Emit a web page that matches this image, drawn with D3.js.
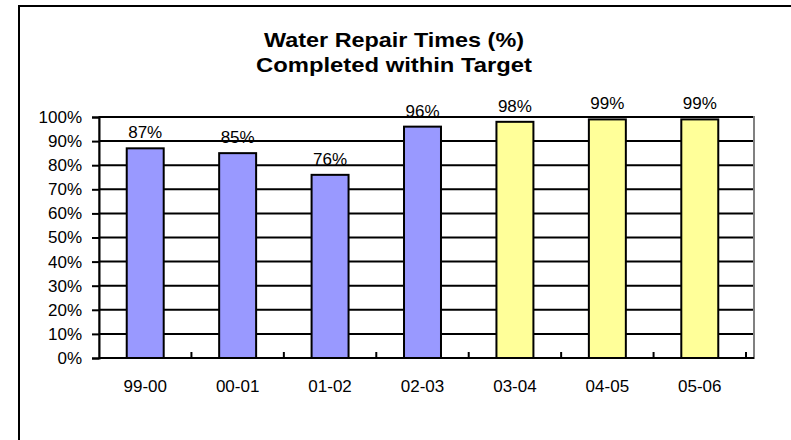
<!DOCTYPE html>
<html>
<head>
<meta charset="utf-8">
<script src="https://cdn.jsdelivr.net/npm/d3@7"></script>
<style>
  body { margin: 0; background: #fff; }
  svg text { font-family: Arial, "Liberation Sans", Helvetica, sans-serif; fill: #000; }
</style>
</head>
<body>
<div id="viz"></div>
<script>
var years = ['99-00', '00-01', '01-02', '02-03', '03-04', '04-05', '05-06'];
var completed = [87, 85, 76, 96, 98, 99, 99];
var period = ['past', 'past', 'past', 'past', 'recent', 'recent', 'recent'];
var yTicks = [0, 10, 20, 30, 40, 50, 60, 70, 80, 90, 100];
var titleLines = ['Water Repair Times (%)', 'Completed within Target'];

var W = 791, H = 440;
var plot = { left: 99, right: 746, frameRight: 754, top: 117, bottom: 358 };

var svg = d3.select('#viz').append('svg')
    .attr('width', W)
    .attr('height', H);

svg.append('rect')
    .attr('x', 19).attr('y', 6)
    .attr('width', 800).attr('height', 460)
    .attr('fill', '#fff')
    .attr('stroke', '#000')
    .attr('stroke-width', 2);

// title
var titleWidths = [260, 276];
svg.selectAll('.title')
    .data(titleLines)
    .enter().append('text')
    .attr('class', 'title')
    .attr('x', 394)
    .attr('y', function(d, i) { return 47 + i * 25; })
    .attr('text-anchor', 'middle')
    .attr('textLength', function(d, i) { return titleWidths[i]; })
    .attr('lengthAdjust', 'spacingAndGlyphs')
    .style('font-size', '20.5px')
    .style('font-weight', 'bold')
    .text(function(d) { return d; });

var x = d3.scaleBand().domain(years).range([plot.left, plot.right]).paddingInner(0.6).paddingOuter(0.3);
var xb = d3.scaleBand().domain(years).range([plot.left, plot.right]);
var y = d3.scaleLinear().domain([0, 100]).range([plot.bottom, plot.top]);
var color = d3.scaleOrdinal().domain(['past', 'recent']).range(['#9999ff', '#ffff99']);

// plot frame
svg.append('rect')
    .attr('x', plot.left).attr('y', plot.top)
    .attr('width', plot.frameRight - plot.left)
    .attr('height', plot.bottom - plot.top)
    .attr('fill', 'none')
    .attr('stroke', '#808080')
    .attr('stroke-width', 2);

// gridlines
svg.append('g')
    .selectAll('line')
    .data(yTicks.slice(1))
    .enter().append('line')
    .attr('x1', plot.left).attr('x2', plot.frameRight - 1)
    .attr('y1', function(d) { return y(d); })
    .attr('y2', function(d) { return y(d); })
    .attr('stroke', '#000')
    .attr('stroke-width', 2);

// y axis
var yAxis = svg.append('g')
    .attr('transform', 'translate(' + plot.left + ',0)')
    .call(d3.axisLeft(y).tickValues(yTicks).tickSize(7).tickPadding(10)
        .tickFormat(function(d) { return d + '%'; }));
yAxis.select('.domain').attr('stroke', '#000').attr('stroke-width', 2);
yAxis.selectAll('.tick line').attr('stroke', '#000').attr('stroke-width', 2);
yAxis.selectAll('.tick text')
    .style('font-size', '17px')
    .style('font-family', 'Arial, "Liberation Sans", sans-serif')
    .attr('fill', '#000');

// bars
svg.append('g')
    .selectAll('rect')
    .data(years)
    .enter().append('rect')
    .attr('x', function(d) { return x(d); })
    .attr('y', function(d, i) { return y(completed[i]); })
    .attr('width', x.bandwidth())
    .attr('height', function(d, i) { return y(0) - y(completed[i]); })
    .attr('fill', function(d, i) { return color(period[i]); })
    .attr('stroke', '#000')
    .attr('stroke-width', 2);

// x baseline and inner ticks
svg.append('line')
    .attr('x1', plot.left).attr('x2', plot.frameRight)
    .attr('y1', y(0)).attr('y2', y(0))
    .attr('stroke', '#000')
    .attr('stroke-width', 2);

svg.append('g')
    .selectAll('line')
    .data(years)
    .enter().append('line')
    .attr('x1', function(d) { return xb(d) + xb.bandwidth(); })
    .attr('x2', function(d) { return xb(d) + xb.bandwidth(); })
    .attr('y1', y(0))
    .attr('y2', y(0) - 6)
    .attr('stroke', '#000')
    .attr('stroke-width', 2);

// x labels
svg.append('g')
    .selectAll('text')
    .data(years)
    .enter().append('text')
    .attr('x', function(d) { return x(d) + x.bandwidth() / 2; })
    .attr('y', y(0) + 34)
    .attr('text-anchor', 'middle')
    .style('font-size', '17px')
    .text(function(d) { return d; });

// value labels
svg.append('g')
    .selectAll('text')
    .data(years)
    .enter().append('text')
    .attr('x', function(d) { return x(d) + x.bandwidth() / 2; })
    .attr('y', function(d, i) { return y(completed[i]) - 10; })
    .attr('text-anchor', 'middle')
    .style('font-size', '17px')
    .text(function(d, i) { return completed[i] + '%'; });
</script>
</body>
</html>
